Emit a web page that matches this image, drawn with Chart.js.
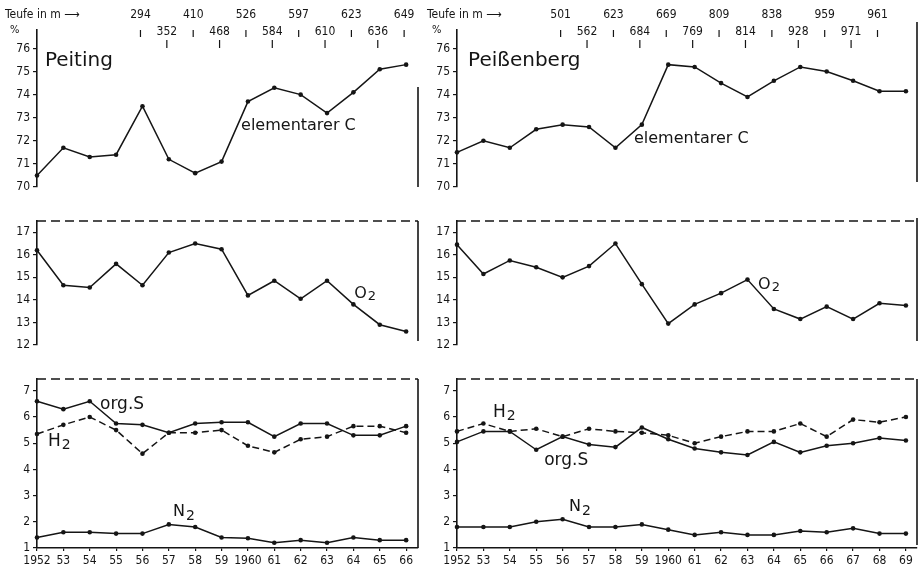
<!DOCTYPE html>
<html><head><meta charset="utf-8">
<script src="https://cdn.jsdelivr.net/npm/chart.js@4.4.1/dist/chart.umd.min.js"></script>
<style>
html,body{margin:0;padding:0;background:#fff;}
#wrap{position:relative;width:923px;height:569px;overflow:hidden;}
canvas{position:absolute;left:0;top:0;}
</style></head><body><div id="wrap">
<canvas id="c1" width="923" height="569"></canvas>
<canvas id="c2" width="923" height="569"></canvas>
<canvas id="c3" width="923" height="569"></canvas>
<canvas id="c4" width="923" height="569"></canvas>
<canvas id="c5" width="923" height="569"></canvas>
<canvas id="c6" width="923" height="569"></canvas>
</div>
<script>
// ---------- data ----------
const yearsPeiting = [1952,1953,1954,1955,1956,1957,1958,1959,1960,1961,1962,1963,1964,1965,1966];
const xLabelsPeiting = ["1952","53","54","55","56","57","58","59","1960","61","62","63","64","65","66"];
const depthPeiting = [null,null,null,null,294,352,410,468,526,584,597,610,623,636,649];
const peitingC  = [70.5,71.7,71.3,71.4,73.5,71.2,70.6,71.1,73.7,74.3,74.0,73.2,74.1,75.1,75.3];
const peitingO2 = [16.2,14.65,14.55,15.6,14.65,16.1,16.5,16.25,14.2,14.85,14.05,14.85,13.8,12.9,12.6];
const peitingS  = [6.6,6.3,6.6,5.75,5.7,5.4,5.75,5.8,5.8,5.25,5.75,5.75,5.3,5.3,5.65];
const peitingH2 = [5.35,5.7,6.0,5.5,4.6,5.4,5.4,5.5,4.9,4.65,5.15,5.25,5.65,5.65,5.4];
const peitingN2 = [1.4,1.6,1.6,1.55,1.55,1.9,1.8,1.4,1.37,1.2,1.3,1.2,1.4,1.3,1.3];

const yearsPeissenberg = [1952,1953,1954,1955,1956,1957,1958,1959,1960,1961,1962,1963,1964,1965,1966,1967,1968,1969];
const xLabelsPeissenberg = ["1952","53","54","55","56","57","58","59","1960","61","62","63","64","65","66","67","68","69"];
const depthPeissenberg = [null,null,null,null,501,562,623,684,669,769,809,814,838,928,959,971,961,null];
const peissC  = [71.5,72.0,71.7,72.5,72.7,72.6,71.7,72.7,75.3,75.2,74.5,73.9,74.6,75.2,75.0,74.6,74.15,74.15];
const peissO2 = [16.45,15.15,15.75,15.45,15.0,15.5,16.5,14.7,12.95,13.8,14.3,14.9,13.6,13.15,13.7,13.15,13.85,13.75];
const peissS  = [5.05,5.45,5.45,4.75,5.25,4.95,4.85,5.6,5.15,4.8,4.65,4.55,5.05,4.65,4.9,5.0,5.2,5.1];
const peissH2 = [5.45,5.75,5.45,5.55,5.25,5.55,5.45,5.4,5.3,5.0,5.25,5.45,5.45,5.75,5.25,5.9,5.8,6.0];
const peissN2 = [1.8,1.8,1.8,2.0,2.1,1.8,1.8,1.9,1.7,1.5,1.6,1.5,1.5,1.65,1.6,1.75,1.55,1.55];

// ---------- style ----------
const INK = '#151515';
const TICKFONT = '"DejaVu Sans Condensed","DejaVu Sans",sans-serif';
const LABELFONT = '"DejaVu Sans",sans-serif';
Chart.defaults.font.family = TICKFONT;
Chart.defaults.font.size = 12;
Chart.defaults.color = INK;

const decor = {
  id: 'decor',
  afterDraw(chart, args, o) {
    const ctx = chart.ctx, a = chart.chartArea, xs = chart.scales.x, ys = chart.scales.y;
    ctx.save();
    ctx.strokeStyle = INK; ctx.fillStyle = INK;
    const line = (x1,y1,x2,y2) => { ctx.beginPath(); ctx.moveTo(x1,y1); ctx.lineTo(x2,y2); ctx.stroke(); };
    if (o.dashedTop) {
      ctx.lineWidth = 1.6; ctx.setLineDash([9,5]);
      line(a.left, a.top, a.right, a.top); ctx.setLineDash([]);
    }
    if (o.rightLine) {
      ctx.lineWidth = 1.6;
      line(a.right, a.top + o.rightLine[0], a.right, a.bottom + o.rightLine[1]);
    }
    (o.texts || []).forEach(t => {
      const px = xs.getPixelForValue(t.x), py = ys.getPixelForValue(t.y);
      ctx.textAlign = 'left'; ctx.textBaseline = 'alphabetic';
      ctx.font = t.size + 'px ' + LABELFONT;
      ctx.fillText(t.text, px, py);
      if (t.sub) {
        const w = ctx.measureText(t.text).width;
        ctx.font = t.subSize + 'px ' + LABELFONT;
        ctx.fillText(t.sub, px + w + 1, py + t.subDy);
      }
    });
    if (o.depths) {
      const d = o.depths;
      ctx.font = '12px ' + TICKFONT; ctx.textAlign = 'center'; ctx.textBaseline = 'alphabetic';
      ctx.lineWidth = 1.2;
      let k = 0;
      d.years.forEach((yr, i) => {
        const v = d.values[i];
        if (v === null) return;
        const px = xs.getPixelForValue(yr) - 2;
        if (k % 2 === 0) { ctx.fillText(String(v), px, 18); line(px, 30, px, 37); }
        else { ctx.fillText(String(v), px, 35); line(px, 40, px, 48); }
        k++;
      });
      ctx.textAlign = 'left';
      ctx.fillText('Teufe in m \u27F6', d.titleX, 18);
      ctx.font = '11px ' + TICKFONT;
      ctx.fillText('%', d.titleX + 5, 33);
    }
    ctx.restore();
  }
};

function series(years, vals, dashed) {
  return {
    data: years.map((x, i) => ({x, y: vals[i]})),
    borderColor: INK, backgroundColor: INK,
    borderWidth: 1.5, borderDash: dashed ? [7,4] : [],
    pointRadius: 2.3, pointBorderWidth: 0, pointBackgroundColor: INK,
    tension: 0, fill: false, clip: false
  };
}

function makeChart(id, c) {
  const xH = 21, yW = 37;
  return new Chart(document.getElementById(id), {
    type: 'line',
    data: { datasets: c.datasets },
    plugins: [decor],
    options: {
      responsive: false, animation: false, devicePixelRatio: 1,
      layout: { padding: {
        left: c.left - yW, right: 923 - c.right, top: c.top,
        bottom: 569 - c.bottom - (c.showX ? xH : 0) } },
      plugins: { legend: {display: false}, tooltip: {enabled: false}, decor: c.decor },
      scales: {
        x: {
          type: 'linear', display: c.showX, min: 1952, max: c.xmax,
          afterFit: s => { s.height = xH; },
          ticks: { stepSize: 1, autoSkip: false, includeBounds: false, maxRotation: 0, padding: 3,
                   font: {size: 12}, color: INK,
                   callback: v => c.xLabels[c.years.indexOf(v)] },
          grid: { drawOnChartArea: false, tickLength: 3, color: INK, lineWidth: 1.2 },
          border: { display: true, color: INK, width: 1.6 }
        },
        y: {
          type: 'linear', min: c.ymin, max: c.ymax,
          afterFit: s => { s.width = yW; },
          ticks: { stepSize: 1, includeBounds: false, padding: 3, font: {size: 12}, color: INK },
          grid: { drawOnChartArea: false, tickLength: 4, color: INK, lineWidth: 1.2 },
          border: { display: true, color: INK, width: 1.6 }
        }
      }
    }
  });
}

const colP = {left: 37, right: 418, xmax: 1966.45, years: yearsPeiting, xLabels: xLabelsPeiting};
const colB = {left: 457, right: 917, xmax: 1969.42, years: yearsPeissenberg, xLabels: xLabelsPeissenberg};

// Peiting
makeChart('c1', Object.assign({}, colP, {
  top: 30, bottom: 208, ymin: 70, ymax: 76.8, showX: false,
  datasets: [series(yearsPeiting, peitingC)],
  decor: { rightLine: [57, 0],
    depths: {years: yearsPeiting, values: depthPeiting, titleX: 5},
    texts: [ {text: 'Peiting', x: 1952.3, y: 75.23, size: 20},
             {text: 'elementarer C', x: 1959.74, y: 72.48, size: 16} ] }
}));
makeChart('c2', Object.assign({}, colP, {
  top: 221, bottom: 366, ymin: 12, ymax: 17.5, showX: false,
  datasets: [series(yearsPeiting, peitingO2)],
  decor: { dashedTop: true, rightLine: [0, -4],
    texts: [ {text: 'O', x: 1964.03, y: 14.08, size: 16, sub: '2', subSize: 13, subDy: 2} ] }
}));
makeChart('c3', Object.assign({}, colP, {
  top: 379, bottom: 548, ymin: 1, ymax: 7.45, showX: true,
  datasets: [series(yearsPeiting, peitingS), series(yearsPeiting, peitingH2, true), series(yearsPeiting, peitingN2)],
  decor: { dashedTop: true, rightLine: [0, 0],
    texts: [ {text: 'org.S', x: 1954.39, y: 6.31, size: 17},
             {text: 'H', x: 1952.42, y: 4.88, size: 17, sub: '2', subSize: 14, subDy: 3},
             {text: 'N', x: 1957.16, y: 2.21, size: 16, sub: '2', subSize: 14, subDy: 4} ] }
}));

// Peißenberg
makeChart('c4', Object.assign({}, colB, {
  top: 30, bottom: 208, ymin: 70, ymax: 76.8, showX: false,
  datasets: [series(yearsPeissenberg, peissC)],
  decor: { rightLine: [-8, -5],
    depths: {years: yearsPeissenberg, values: depthPeissenberg, titleX: 427},
    texts: [ {text: 'Peißenberg', x: 1952.42, y: 75.23, size: 20},
             {text: 'elementarer C', x: 1958.7, y: 71.9, size: 16} ] }
}));
makeChart('c5', Object.assign({}, colB, {
  top: 221, bottom: 366, ymin: 12, ymax: 17.5, showX: false,
  datasets: [series(yearsPeissenberg, peissO2)],
  decor: { dashedTop: true, rightLine: [-3, -4],
    texts: [ {text: 'O', x: 1963.4, y: 14.5, size: 16, sub: '2', subSize: 13, subDy: 2} ] }
}));
makeChart('c6', Object.assign({}, colB, {
  top: 379, bottom: 548, ymin: 1, ymax: 7.45, showX: true,
  datasets: [series(yearsPeissenberg, peissS), series(yearsPeissenberg, peissH2, true), series(yearsPeissenberg, peissN2)],
  decor: { dashedTop: true, rightLine: [0, -3],
    texts: [ {text: 'H', x: 1953.36, y: 6.01, size: 17, sub: '2', subSize: 14, subDy: 3},
             {text: 'org.S', x: 1955.3, y: 4.18, size: 17},
             {text: 'N', x: 1956.24, y: 2.43, size: 16, sub: '2', subSize: 14, subDy: 4} ] }
}));
</script></body></html>
